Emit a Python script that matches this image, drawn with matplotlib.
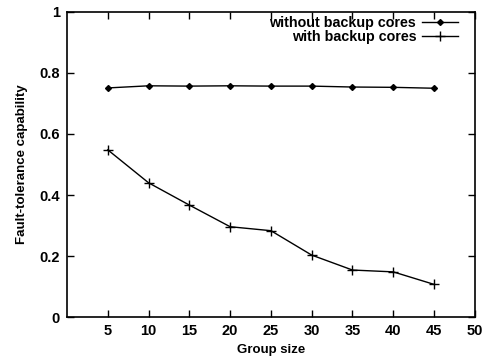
import matplotlib
matplotlib.use('Agg')
from matplotlib import pyplot as plt

# dane
group_size = [5, 10, 15, 20, 25, 30, 35, 40, 45]
without_backup = [0.751, 0.758, 0.757, 0.758, 0.757, 0.757, 0.754, 0.753, 0.750]
with_backup = [0.548, 0.440, 0.367, 0.296, 0.283, 0.203, 0.154, 0.148, 0.107]

x_ticks = [5, 10, 15, 20, 25, 30, 35, 40, 45, 50]
y_ticks = [0, 0.2, 0.4, 0.6, 0.8, 1]
y_labels = ['0', '0.2', '0.4', '0.6', '0.8', '1']

plt.rcParams['font.family'] = ['Liberation Sans', 'DejaVu Sans']
plt.rcParams['font.weight'] = 'bold'

fig = plt.figure(figsize=(4.87, 3.6), dpi=100)
ax = fig.add_axes([0.1376, 0.1194, 0.8374, 0.8473])

ax.plot(group_size, without_backup, color='black', lw=1.0, marker='D',
        ms=3, label='without backup cores')
ax.plot(group_size, with_backup, color='black', lw=1.0, marker='+',
        ms=7, mew=1.0, label='with backup cores')

ax.set_xlim(0, 50)
ax.set_ylim(0, 1)
ax.set_xticks(x_ticks)
ax.set_yticks(y_ticks)
ax.set_yticklabels(y_labels)
ax.tick_params(direction='in', top=True, right=True, length=5, width=1,
               labelsize=10.5, pad=5)
for side in ax.spines.values():
    side.set_linewidth(1.2)

ax.set_xlabel('Group size', fontsize=9.5, fontweight='bold', labelpad=4)
ax.set_ylabel('Fault-tolerance capability', fontsize=9.5, fontweight='bold',
              labelpad=8)

# legenda w stylu gnuplota: tekst z prawej wyrównany, próbka linii za tekstem
ax.legend(loc='upper right', bbox_to_anchor=(0.958, 0.988), frameon=False,
          markerfirst=False, fontsize=10.3, handlelength=2.5,
          handletextpad=0.4, labelspacing=0.05, borderaxespad=0, borderpad=0)

fig.savefig('out.png', dpi=100)
